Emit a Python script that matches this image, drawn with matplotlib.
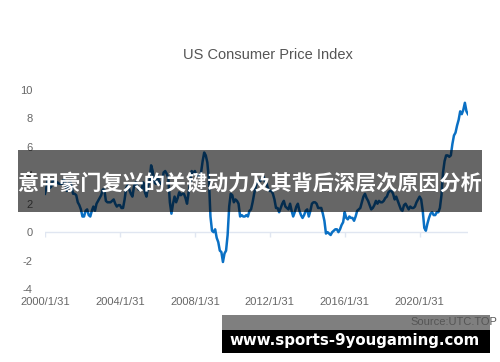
import numpy as np
from matplotlib import pyplot as plt
from matplotlib.patches import Rectangle

# US CPI year-over-year change (%), monthly, 2000/1 .. 2022/8
cpi_2000 = [2.7, 3.2, 3.8, 3.1, 3.2, 3.7, 3.7, 3.4, 3.5, 3.4, 3.4, 3.4]
cpi_2001 = [3.7, 3.5, 2.9, 3.3, 3.6, 3.2, 2.7, 2.7, 2.6, 2.1, 1.9, 1.6]
cpi_2002 = [1.1, 1.1, 1.5, 1.6, 1.2, 1.1, 1.5, 1.8, 1.5, 2.0, 2.2, 2.4]
cpi_2003 = [2.6, 3.0, 3.0, 2.2, 2.1, 2.1, 2.1, 2.2, 2.3, 2.0, 1.8, 1.9]
cpi_2004 = [1.9, 1.7, 1.7, 2.3, 3.1, 3.3, 3.0, 2.7, 2.5, 3.2, 3.5, 3.3]
cpi_2005 = [3.0, 3.0, 3.1, 3.5, 2.8, 2.5, 3.2, 3.6, 4.7, 4.3, 3.5, 3.4]
cpi_2006 = [4.0, 3.6, 3.4, 3.5, 4.2, 4.3, 4.1, 3.8, 2.1, 1.3, 2.0, 2.5]
cpi_2007 = [2.1, 2.4, 2.8, 2.6, 2.7, 2.7, 2.4, 2.0, 2.8, 3.5, 4.3, 4.1]
cpi_2008 = [4.3, 4.0, 4.0, 3.9, 4.2, 5.0, 5.6, 5.4, 4.9, 3.7, 1.1, 0.1]
cpi_2009 = [0.0, 0.2, -0.4, -0.7, -1.3, -1.4, -2.1, -1.5, -1.3, -0.2, 1.8, 2.7]
cpi_2010 = [2.6, 2.1, 2.3, 2.2, 2.0, 1.1, 1.2, 1.1, 1.1, 1.2, 1.1, 1.5]
cpi_2011 = [1.6, 2.1, 2.7, 3.2, 3.6, 3.6, 3.6, 3.8, 3.9, 3.5, 3.4, 3.0]
cpi_2012 = [2.9, 2.9, 2.7, 2.3, 1.7, 1.7, 1.4, 1.7, 2.0, 2.2, 1.8, 1.7]
cpi_2013 = [1.6, 2.0, 1.5, 1.1, 1.4, 1.8, 2.0, 1.5, 1.2, 1.0, 1.2, 1.5]
cpi_2014 = [1.6, 1.1, 1.5, 2.0, 2.1, 2.1, 2.0, 1.7, 1.7, 1.7, 1.3, 0.8]
cpi_2015 = [-0.1, 0.0, -0.1, -0.2, 0.0, 0.1, 0.2, 0.2, 0.0, 0.2, 0.5, 0.7]
cpi_2016 = [1.4, 1.0, 0.9, 1.1, 1.0, 1.0, 0.8, 1.1, 1.5, 1.6, 1.7, 2.1]
cpi_2017 = [2.5, 2.7, 2.4, 2.2, 1.9, 1.6, 1.7, 1.9, 2.2, 2.0, 2.2, 2.1]
cpi_2018 = [2.1, 2.2, 2.4, 2.5, 2.8, 2.9, 2.9, 2.7, 2.3, 2.5, 2.2, 1.9]
cpi_2019 = [1.6, 1.5, 1.9, 2.0, 1.8, 1.6, 1.8, 1.7, 1.7, 1.8, 2.1, 2.3]
cpi_2020 = [2.5, 2.3, 1.5, 0.3, 0.1, 0.6, 1.0, 1.3, 1.4, 1.2, 1.2, 1.4]
cpi_2021 = [1.4, 1.7, 2.6, 4.2, 5.0, 5.4, 5.4, 5.3, 5.4, 6.2, 6.8, 7.0]
cpi_2022 = [7.5, 7.9, 8.5, 8.3, 8.6, 9.1, 8.5, 8.3]

x_tick_years = [2000, 2004, 2008, 2012, 2016, 2020]
x_tick_labels = ["2000/1/31", "2004/1/31", "2008/1/31", "2012/1/31", "2016/1/31", "2020/1/31"]
y_ticks = [-4, -2, 0, 2, 4, 6, 8, 10]

title = "US Consumer Price Index"
source = "Source:UTC.TOP"
banner = "意甲豪门复兴的关键动力及其背后深层次原因分析"
site = "www.sports-9yougaming.com"

values = np.array(cpi_2000 + cpi_2001 + cpi_2002 + cpi_2003 + cpi_2004 + cpi_2005
                  + cpi_2006 + cpi_2007 + cpi_2008 + cpi_2009 + cpi_2010 + cpi_2011
                  + cpi_2012 + cpi_2013 + cpi_2014 + cpi_2015 + cpi_2016 + cpi_2017
                  + cpi_2018 + cpi_2019 + cpi_2020 + cpi_2021 + cpi_2022)
months = 2000 + np.arange(len(values)) / 12.0

W, H = 500, 362
def fx(px):
    return px / W
def fy(py):
    return 1 - py / H

plt.rcParams['font.family'] = ['Liberation Sans', 'DejaVu Sans']

fig = plt.figure(figsize=(5, 3.62), dpi=100)
ax = fig.add_axes([fx(45), fy(289), fx(468) - fx(45), fy(90) - fy(289)])
ax.plot(months, values, color="#0a70c4", lw=1.8, solid_joinstyle="round")
ax.axhline(0, color="#e0e6f1", lw=1, zorder=0)
ax.set_xlim(months[0], months[-1])
ax.set_ylim(-4, 10)
for s in ax.spines.values():
    s.set_visible(False)

ax.set_yticks(y_ticks)
ax.set_yticklabels([str(v) for v in y_ticks])
ax.tick_params(axis="y", length=0, pad=9, labelsize=8, labelcolor="#666666")
ax.set_xticks(x_tick_years)
ax.set_xticklabels(x_tick_labels)
ax.tick_params(axis="x", length=0, pad=6, labelsize=8, labelcolor="#666666")
# small ticks hanging from the zero line
ax.vlines(x_tick_years, -0.35, 0, color="#e0e6f1", lw=1)

fig.text(fx(268), fy(55), title, ha="center", va="center", fontsize=10.5, color="#555555")
fig.text(fx(497), fy(322), source, ha="right", va="center", fontsize=8, color="#555555")

# overlays
fig.add_artist(Rectangle((fx(18), fy(212)), fx(482) - fx(18), fy(150) - fy(212),
                         transform=fig.transFigure, color="black", alpha=0.6, lw=0))
fig.text(fx(250), fy(184), banner, ha="center", va="center", fontsize=15.2,
         fontweight="bold", color="white", family=["Noto Sans CJK SC", "DejaVu Sans"])

fig.add_artist(Rectangle((fx(222), fy(330)), fx(490) - fx(222), fy(315) - fy(330),
                         transform=fig.transFigure, color="black", alpha=0.5, lw=0))
fig.add_artist(Rectangle((fx(222), fy(353)), fx(490) - fx(222), fy(330) - fy(353),
                         transform=fig.transFigure, color="black", lw=0))
fig.text(fx(355), fy(341), site, ha="center", va="center", fontsize=10.8,
         fontweight="bold", color="white", family=["DejaVu Sans"])

fig.savefig("out.png", dpi=100)
